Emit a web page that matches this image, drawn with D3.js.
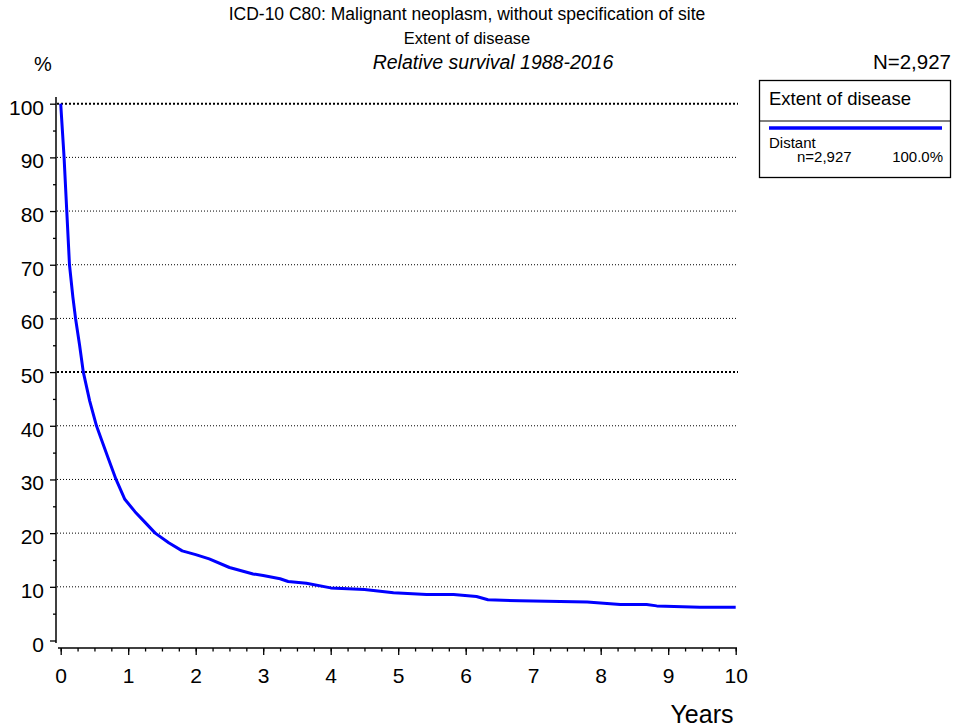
<!DOCTYPE html>
<html>
<head>
<meta charset="utf-8">
<script src="https://cdn.jsdelivr.net/npm/d3@7"></script>
<style>
	body { margin: 0; background: #fff; }
	text { font-family: Arial, "Liberation Sans", sans-serif; fill: #000; }
</style>
</head>
<body>
<svg id="chart" width="953" height="728"></svg>
<script>
// ---------- data
const years = [0, 0.05, 0.09, 0.13, 0.18, 0.22, 0.28, 0.335, 0.43, 0.53, 0.61, 0.70, 0.82, 0.95,
	1.1, 1.25, 1.4, 1.6, 1.8, 2.0, 2.2, 2.5, 2.85, 3.0, 3.25, 3.37, 3.64, 4.0, 4.5, 4.93,
	5.42, 5.82, 6.16, 6.33, 6.8, 7.8, 8.29, 8.68, 8.83, 9.47, 10];
const survival = [100, 90, 80, 70, 64, 60, 55, 50, 44.6, 40, 37.2, 34.1, 30, 26.3,
	24, 22, 20, 18.2, 16.7, 16, 15.2, 13.6, 12.4, 12.1, 11.5, 11, 10.65, 9.8, 9.5, 8.9,
	8.55, 8.55, 8.2, 7.6, 7.4, 7.15, 6.7, 6.7, 6.45, 6.2, 6.2];

const yTicks = [0, 10, 20, 30, 40, 50, 60, 70, 80, 90, 100];
const yMinor = [5, 15, 25, 35, 45, 55, 65, 75, 85, 95];
const xTicks = [0, 1, 2, 3, 4, 5, 6, 7, 8, 9, 10];
const xMinor = d3.range(0, 10.01, 0.25);

const titleLines = ["ICD-10 C80: Malignant neoplasm, without specification of site", "Extent of disease", "Relative survival 1988-2016"];
const totalN = "N=2,927";
const legendTitle = "Extent of disease";
const groupName = "Distant";
const groupN = "n=2,927";
const groupPct = "100.0%";

// ---------- scales
const svg = d3.select("#chart");
const x = d3.scaleLinear().domain([0, 10]).range([60.7, 735.7]);
const y = d3.scaleLinear().domain([0, 100]).range([640.5, 103.7]);

//-----------------------------------
// titles
svg.append("text").attr("x", 467).attr("y", 20).attr("text-anchor", "middle")
	.style("font-size", "17.5px").text(titleLines[0]);
svg.append("text").attr("x", 467).attr("y", 44).attr("text-anchor", "middle")
	.style("font-size", "16.5px").text(titleLines[1]);
svg.append("text").attr("x", 493).attr("y", 69).attr("text-anchor", "middle")
	.style("font-size", "19.5px").style("font-style", "italic").text(titleLines[2]);
svg.append("text").attr("x", 34).attr("y", 71).style("font-size", "20px").text("%");
svg.append("text").attr("x", 951).attr("y", 69).attr("text-anchor", "end")
	.style("font-size", "20.5px").text(totalN);

//-----------------------------------
// grid lines (100 and 50 heavier)
svg.append("g").selectAll("line").data(yTicks.filter(d => d > 0)).join("line")
	.attr("x1", 57).attr("x2", 738)
	.attr("y1", d => y(d)).attr("y2", d => y(d))
	.attr("stroke", "#000")
	.attr("stroke-width", d => (d === 50 || d === 100) ? 2 : 1)
	.attr("stroke-dasharray", d => (d === 50 || d === 100) ? "2,2" : "1,2");

//-----------------------------------
// y axis
const gy = svg.append("g").attr("transform", "translate(56,0)");
gy.call(d3.axisLeft(y).tickValues(yTicks).tickSize(6).tickSizeOuter(0).tickPadding(6).tickFormat(d3.format("d")));
gy.append("g").call(d3.axisLeft(y).tickValues(yMinor).tickSize(3).tickSizeOuter(0).tickFormat(""));
gy.selectAll(".domain").remove();
gy.selectAll("text").style("font-size", "21px").attr("dy", "0.5em");
gy.append("line").attr("x1", 0).attr("x2", 0).attr("y1", 97).attr("y2", 643).attr("stroke", "#000").attr("stroke-width", 1.5);

//-----------------------------------
// x axis
const gx = svg.append("g").attr("transform", "translate(0,648)");
gx.call(d3.axisBottom(x).tickValues(xTicks).tickSize(7).tickSizeOuter(0).tickPadding(13).tickFormat(d3.format("d")));
gx.append("g").call(d3.axisBottom(x).tickValues(xMinor).tickSize(3.5).tickSizeOuter(0).tickFormat(""));
gx.selectAll(".domain").remove();
gx.selectAll("text").style("font-size", "21px");
gx.append("line").attr("x1", 58).attr("x2", 737).attr("y1", 0).attr("y2", 0).attr("stroke", "#000").attr("stroke-width", 1.5);
svg.selectAll(".tick line").attr("stroke-width", 1.3);

svg.append("text").attr("x", 702).attr("y", 723).attr("text-anchor", "middle")
	.style("font-size", "25px").text("Years");

//-----------------------------------
// survival curve
const line = d3.line().x((d, i) => x(years[i])).y(d => y(d));
svg.append("path").datum(survival)
	.attr("d", line)
	.attr("fill", "none")
	.attr("stroke", "#0000ff")
	.attr("stroke-width", 3)
	.attr("stroke-linejoin", "round");

//-----------------------------------
// legend box
const lg = svg.append("g");
lg.append("rect").attr("x", 759.5).attr("y", 80.5).attr("width", 191).attr("height", 97)
	.attr("fill", "#fff").attr("stroke", "#000").attr("stroke-width", 1.3);
lg.append("line").attr("x1", 759.5).attr("x2", 950.5).attr("y1", 121).attr("y2", 121).attr("stroke", "#000");
lg.append("text").attr("x", 769).attr("y", 105).style("font-size", "18.5px").text(legendTitle);
lg.append("line").attr("x1", 769).attr("x2", 942).attr("y1", 128).attr("y2", 128)
	.attr("stroke", "#0000ff").attr("stroke-width", 3.5);
lg.append("text").attr("x", 769).attr("y", 148).style("font-size", "15px").text(groupName);
lg.append("text").attr("x", 797).attr("y", 162).style("font-size", "15px").text(groupN);
lg.append("text").attr("x", 943).attr("y", 162).attr("text-anchor", "end").style("font-size", "15px").text(groupPct);
</script>
</body>
</html>
